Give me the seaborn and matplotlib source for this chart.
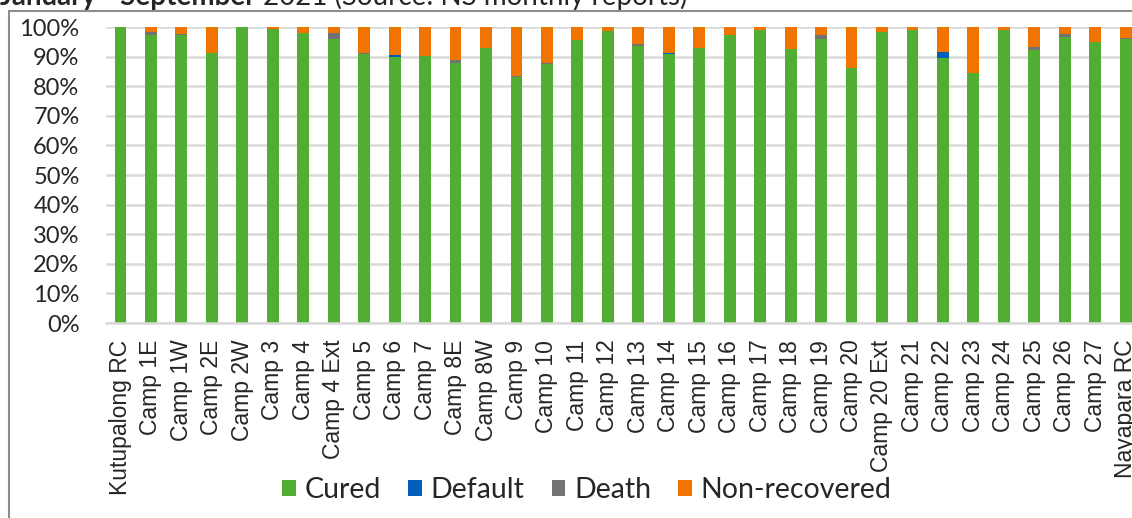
import matplotlib
matplotlib.use("Agg")
import matplotlib.pyplot as plt
from matplotlib.patches import Patch
from matplotlib.lines import Line2D
import seaborn as sns
import pandas as pd
import numpy as np

categories = ["Kutupalong RC", "Camp 1E", "Camp 1W", "Camp 2E", "Camp 2W", "Camp 3",
              "Camp 4", "Camp 4 Ext", "Camp 5", "Camp 6", "Camp 7", "Camp 8E", "Camp 8W",
              "Camp 9", "Camp 10", "Camp 11", "Camp 12", "Camp 13", "Camp 14", "Camp 15",
              "Camp 16", "Camp 17", "Camp 18", "Camp 19", "Camp 20", "Camp 20 Ext",
              "Camp 21", "Camp 22", "Camp 23", "Camp 24", "Camp 25", "Camp 26", "Camp 27",
              "Nayapara RC"]
cured = [100, 97.3, 97.3, 91.2, 100, 99.3, 97.9, 95.8, 90.8, 89.9, 90.3, 87.8, 93.0,
         83.1, 87.4, 95.5, 98.8, 93.5, 90.8, 93.0, 97.4, 99.1, 92.7, 96.1, 86.0, 98.3,
         98.9, 89.4, 84.4, 98.9, 92.1, 96.5, 95.1, 95.8]
default = [0, 0, 0, 0, 0, 0, 0, 0, 0, 0.6, 0, 0, 0, 0, 0, 0, 0, 0, 0.3, 0, 0, 0, 0, 0,
           0, 0, 0, 2.1, 0, 0, 0, 0, 0, 0]
death = [0, 1.1, 0.4, 0, 0, 0, 0, 2.2, 0.4, 0, 0, 1.0, 0, 0.4, 0.4, 0, 0, 0.9, 0, 0,
         0, 0, 0, 1.1, 0, 0, 0, 0, 0, 0, 1.1, 1.2, 0, 0.6]
non_recovered = [0, 1.6, 2.3, 8.8, 0, 0.7, 2.1, 2.0, 8.8, 9.5, 9.7, 11.2, 7.0, 16.5,
                 12.2, 4.5, 1.2, 5.6, 8.9, 7.0, 2.6, 0.9, 7.3, 2.8, 14.0, 1.7, 1.1, 8.5,
                 15.6, 1.1, 6.8, 2.3, 4.9, 3.6]
series_names = ["Cured", "Default", "Death", "Non-recovered"]
series_colors = ["#52AE32", "#005EB8", "#737373", "#F07400"]

sns.set_style("white")
plt.rcParams["font.family"] = ["Lato", "DejaVu Sans"]

df = pd.DataFrame({"camp": categories, "Cured": cured, "Default": default,
                   "Death": death, "Non-recovered": non_recovered})

W, H = 1132, 518
fig = plt.figure(figsize=(W / 100, H / 100), dpi=100)
slot = 30.46
ax = fig.add_axes([106 / W, 195 / H, 34 * slot / W, 296 / H])

# stacked bars drawn as cumulative layers (back to front)
cum = np.zeros(len(categories))
layers = []
for name in series_names:
    cum = cum + df[name].to_numpy()
    layers.append(cum.copy())
for name, col, top in reversed(list(zip(series_names, series_colors, layers))):
    sns.barplot(x=df["camp"], y=top, order=categories, color=col, width=0.39,
                errorbar=None, ax=ax, linewidth=0, saturation=1)

ax.set_xlim(-0.476, 33.524)
ax.set_ylim(0, 100)
ax.set_yticks(range(0, 101, 10))
ax.set_yticklabels([f"{v}%" for v in range(0, 101, 10)], fontsize=17,
                   family=["Lato", "DejaVu Sans"])
ax.set_xticks(range(len(categories)))
ax.set_xticklabels(categories, rotation=90, fontsize=16.5,
                   family=["Liberation Sans", "DejaVu Sans"], va="top", ha="center")
ax.tick_params(axis="y", length=0, pad=19)
ax.tick_params(axis="x", length=0, pad=12)
ax.set_xlabel("")
ax.set_ylabel("")
ax.yaxis.grid(True, color="#d9d9d9", lw=1.8)
ax.set_axisbelow(True)
for s in ["top", "right", "left"]:
    ax.spines[s].set_visible(False)
ax.spines["bottom"].set_color("#d9d9d9")
ax.spines["bottom"].set_linewidth(1.8)

# chart frame (cropped)
fig.add_artist(Line2D([8.5 / W, 8.5 / W], [0, 1 - 10.5 / H], transform=fig.transFigure,
                      color="#8c8c8c", lw=1.5))
fig.add_artist(Line2D([8.5 / W, 1], [1 - 10.5 / H, 1 - 10.5 / H], transform=fig.transFigure,
                      color="#8c8c8c", lw=1.5))

# title (cropped at top)
t1 = fig.text(0.0, 1 - 5 / H, "January - September", fontsize=20, fontweight="bold",
              va="baseline", ha="left", family=["Lato", "DejaVu Sans"])
fig.canvas.draw()
ax.annotate(" 2021 (Source: NS monthly reports)", xy=(1, 0), xycoords=t1,
            va="bottom", ha="left", fontsize=20, family=["Lato", "DejaVu Sans"],
            annotation_clip=False)

handles = [Patch(facecolor=c, edgecolor="none") for c in series_colors]
fig.legend(handles, series_names, loc="center", bbox_to_anchor=(587 / W, 1 - 490 / H),
           ncol=4, frameon=False, fontsize=20.5, handlelength=0.47, handleheight=0.47,
           handletextpad=0.32, columnspacing=0.95, borderaxespad=0, borderpad=0)

fig.savefig("out.png", dpi=100)
